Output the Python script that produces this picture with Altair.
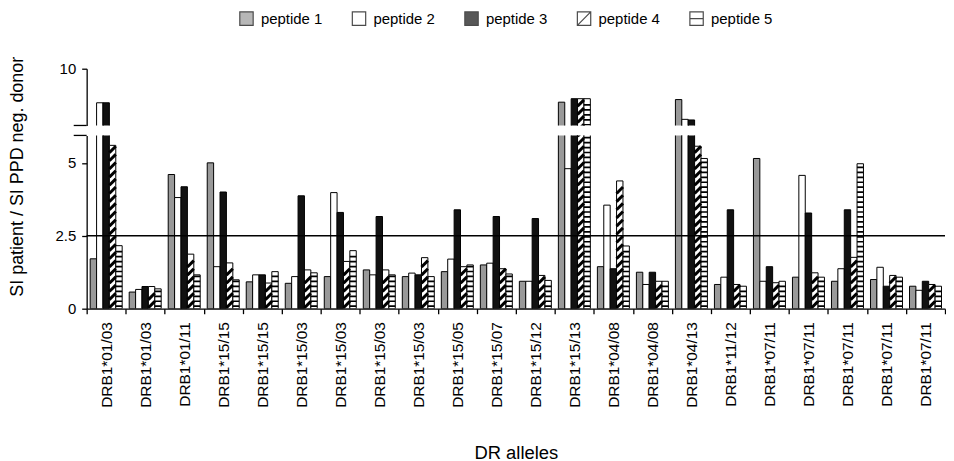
import json
import altair as alt
import pandas as pd

alleles = ["DRB1*01/03", "DRB1*01/03", "DRB1*01/11", "DRB1*15/15", "DRB1*15/15",
           "DRB1*15/03", "DRB1*15/03", "DRB1*15/03", "DRB1*15/03", "DRB1*15/05",
           "DRB1*15/07", "DRB1*15/12", "DRB1*15/13", "DRB1*04/08", "DRB1*04/08",
           "DRB1*04/13", "DRB1*11/12", "DRB1*07/11", "DRB1*07/11", "DRB1*07/11",
           "DRB1*07/11", "DRB1*07/11"]
peptides = ["peptide 1", "peptide 2", "peptide 3", "peptide 4", "peptide 5"]

pep1 = [1.71, 0.57, 4.60, 5.00, 0.92, 0.87, 1.10, 1.33, 1.10, 1.27, 1.50, 0.94,
        8.85, 1.44, 1.25, 8.94, 0.83, 5.15, 1.08, 0.94, 1.00, 0.77]
pep2 = [8.83, 0.66, 3.81, 1.44, 1.16, 1.10, 3.98, 1.16, 1.22, 1.70, 1.56, 0.94,
        4.80, 3.55, 0.83, 8.26, 1.08, 0.94, 4.57, 1.37, 1.42, 0.63]
pep3 = [8.83, 0.76, 4.18, 4.00, 1.16, 3.87, 3.30, 3.16, 1.16, 3.39, 3.16, 3.09,
        8.97, 1.37, 1.25, 8.24, 3.39, 1.44, 3.28, 3.39, 0.77, 0.94]
pep4 = [5.60, 0.76, 1.87, 1.57, 0.88, 1.33, 1.62, 1.33, 1.75, 1.44, 1.37, 1.14,
        8.97, 4.38, 0.94, 5.57, 0.83, 0.89, 1.23, 1.76, 1.14, 0.83]
pep5 = [2.16, 0.68, 1.16, 0.99, 1.27, 1.23, 1.99, 1.16, 1.10, 1.50, 1.19, 0.97,
        8.97, 2.15, 0.94, 5.15, 0.77, 0.94, 1.08, 4.97, 1.08, 0.77]

fills = ["#999999", "#ffffff", "#111111", "#ffffff", "#ffffff"]
SQ = "M-1,-1L1,-1L1,1L-1,1Z"
legend_shapes = [SQ, SQ, SQ, SQ + "M-1,1L1,-1", SQ + "M-1,0L1,0"]

rows = []
for i, a in enumerate(alleles):
    for name, vals in zip(peptides, [pep1, pep2, pep3, pep4, pep5]):
        rows.append({"grp": i, "allele": a, "peptide": name, "value": vals[i]})
df = pd.DataFrame(rows)

W = 862
H_UP, H_LOW = 57, 174
UP_MIN, UP_MAX = 8.05, 10.0
LOW_MAX = 5.94
FONT = "Liberation Sans"
Y_TITLE = "SI patient / SI PPD neg. donor"

label_expr = json.dumps(alleles) + "[datum.value]"
off_pad = 0.55
bar_px = W / len(alleles) / (5 + 2 * off_pad)

x_scale = alt.Scale(paddingInner=0, paddingOuter=0)
off_scale = alt.Scale(domain=peptides, paddingInner=0, paddingOuter=off_pad)

LEG = alt.Legend(orient="none", legendX=153, legendY=-58, direction="horizontal",
                 columns=5, columnPadding=27, labelOffset=7, symbolSize=180,
                 symbolStrokeColor="black", symbolStrokeWidth=1.2,
                 labelFontSize=15, labelFont=FONT, title=None)


def fill_enc():
    return alt.Fill("peptide:N", scale=alt.Scale(domain=peptides, range=fills),
                    title=None, legend=LEG)


def x_enc(show):
    if show:
        ax = alt.Axis(labelExpr=label_expr, labelAngle=-90, tickBand="extent",
                      tickSize=5, labelPadding=8, labelFontSize=15.5,
                      titlePadding=36, titleFontSize=18.5, titleFontWeight="normal")
        return alt.X("grp:O", scale=x_scale, axis=ax, title="DR alleles")
    return alt.X("grp:O", scale=x_scale, axis=None)


def y_axis(values, title):
    common = dict(values=values, format=".1~f", tickSize=5, labelFontSize=15,
                  labelPadding=6, grid=False)
    if title:
        return alt.Axis(titleFontSize=18, titleFontWeight="normal",
                        titleX=-60, titleY=41, **common)
    return alt.Axis(**common)


def panel(lo, hi, height, show_x, tick_values, title, break_at, guide=False):
    ys = alt.Scale(domain=[lo, hi], zero=False, nice=False)
    yax = y_axis(tick_values, title)
    ttl = title if title else None
    bars = alt.Chart(df).mark_bar(stroke="black", strokeWidth=1, clip=True).encode(
        x=x_enc(show_x),
        xOffset=alt.XOffset("peptide:N", scale=off_scale),
        y=alt.Y("value:Q", scale=ys, axis=yax, title=ttl),
        y2=alt.datum(0),
        fill=fill_enc(),
    )

    def hatch(pep, step, path, sw):
        return alt.Chart(df).transform_filter(
            alt.datum.peptide == pep
        ).transform_calculate(
            lv=f"sequence({step / 2}, datum.value - {step * 0.3}, {step})"
        ).transform_flatten(["lv"]).transform_filter(
            f"datum.lv > {lo - 0.3} && datum.lv < {hi + 0.3}"
        ).mark_point(shape=path, size=bar_px ** 2, filled=False, stroke="black",
                     strokeWidth=sw, opacity=1, clip=True).encode(
            x=x_enc(show_x),
            xOffset=alt.XOffset("peptide:N", scale=off_scale),
            y=alt.Y("lv:Q", scale=ys, axis=yax, title=ttl),
        )

    layers = [bars,
              hatch("peptide 4", 0.28, "M-1,1L1,-1", 3.0),
              hatch("peptide 5", 0.17, "M-1,0L1,0", 1.7)]
    brk = alt.Chart(alt.Data(values=[{"k": 1}])).mark_rule(
        color="black", strokeWidth=1.3).encode(
        y=alt.datum(break_at, scale=ys), x=alt.value(-13), x2=alt.value(0))
    layers.append(brk)
    if show_x:
        ref = alt.Chart(alt.Data(values=[{"k": 1}])).mark_rule(
            color="black", strokeWidth=1.6).encode(y=alt.datum(2.5))
        layers.append(ref)
    if guide:
        leg = alt.Chart(df).transform_filter("false").mark_point(
            filled=True, stroke="black", strokeWidth=1.2, size=180).encode(
            fill=fill_enc(),
            shape=alt.Shape("peptide:N",
                            scale=alt.Scale(domain=peptides, range=legend_shapes),
                            title=None, legend=LEG),
        )
        layers.append(leg)
    return alt.layer(*layers).properties(width=W, height=height)


upper = panel(UP_MIN, UP_MAX, H_UP, False, [10], None, UP_MIN)
lower = panel(0, LOW_MAX, H_LOW, True, [0, 2.5, 5], Y_TITLE, LOW_MAX, guide=True)

chart = alt.vconcat(upper, lower, spacing=10, bounds="flush").properties(
    padding={"left": 0, "top": 2, "right": 0, "bottom": 0}
).configure_view(stroke=None).configure_axis(
    domainColor="black", tickColor="black", labelColor="black", titleColor="black",
    labelFont=FONT, titleFont=FONT, domainWidth=1.3, tickWidth=1.3
).configure_legend(labelFont=FONT, labelColor="black")

chart.save("out.html", embed_options={"renderer": "svg", "actions": False})
